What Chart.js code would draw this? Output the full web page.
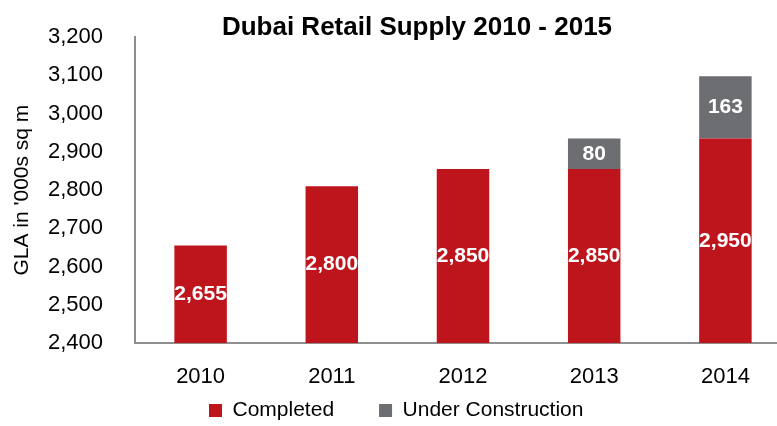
<!DOCTYPE html>
<html>
<head>
<meta charset="utf-8">
<script src="https://cdn.jsdelivr.net/npm/chart.js@4.4.0/dist/chart.umd.min.js"></script>
<style>
  html, body { margin: 0; padding: 0; background: #fff; overflow: hidden; }
</style>
</head>
<body>
<canvas id="supplyChart" width="791" height="426"></canvas>
<script>
// data
const years = ['2010', '2011', '2012', '2013', '2014'];
const completed = [2655, 2810, 2855, 2855, 2935];
const underConstruction = [null, null, null, 80, 163];
// printed values on the bars
const completedLabels = ['2,655', '2,800', '2,850', '2,850', '2,950'];
const constructionLabels = ['', '', '', '80', '163'];
// y axis
const yMin = 2400;
const yMax = 3200;
const yStep = 100;

const FONT = "'Liberation Sans', Arial, sans-serif";
Chart.defaults.font.family = FONT;
Chart.defaults.color = '#000';

// white numbers inside each bar segment
const barLabels = {
  id: 'barLabels',
  afterDatasetsDraw(chart) {
    const ctx = chart.ctx;
    const texts = [completedLabels, constructionLabels];
    const bottom = chart.chartArea.bottom;
    ctx.save();
    ctx.fillStyle = '#fff';
    ctx.font = 'bold 21px ' + FONT;
    ctx.textAlign = 'center';
    ctx.textBaseline = 'middle';
    chart.data.datasets.forEach((ds, i) => {
      chart.getDatasetMeta(i).data.forEach((bar, j) => {
        const t = texts[i][j];
        if (!t) return;
        const base = Math.min(bar.base, bottom);
        ctx.fillText(t, bar.x, (bar.y + base) / 2);
      });
    });
    ctx.restore();
  }
};

// the legend in the original sits just under the year labels, left of centre
const legendPlace = {
  id: 'legendPlace',
  afterLayout(chart) {
    const pad = chart.options.plugins.legend.labels.padding;
    chart.legend.left = 209 - pad;
    chart.legend.top = 400 - pad;
  }
};

new Chart(document.getElementById('supplyChart').getContext('2d'), {
  type: 'bar',
  data: {
    labels: years,
    datasets: [
      { label: 'Completed', data: completed, backgroundColor: '#BE151C' },
      { label: 'Under Construction', data: underConstruction, backgroundColor: '#6D6E71' }
    ]
  },
  options: {
    responsive: false,
    animation: false,
    layout: { padding: { left: 43, right: 0, top: -11, bottom: -43 } },
    datasets: { bar: { barPercentage: 0.4, categoryPercentage: 1, borderWidth: 0 } },
    plugins: {
      title: {
        display: true,
        text: 'Dubai Retail Supply 2010 - 2015',
        font: { size: 26, weight: 'bold' },
        color: '#000',
        padding: { top: 9, bottom: -6 }
      },
      legend: {
        position: 'bottom',
        align: 'start',
        labels: { boxWidth: 13, boxHeight: 13, padding: 45, font: { size: 21 }, color: '#000' }
      },
      tooltip: { enabled: false }
    },
    scales: {
      x: {
        stacked: true,
        grid: { display: false },
        border: { color: '#8f8f8f', width: 2 },
        ticks: { font: { size: 22 }, padding: 13 },
        afterFit(scale) { scale.height = 50; }
      },
      y: {
        stacked: true,
        min: yMin,
        max: yMax,
        grid: { display: false },
        border: { color: '#8f8f8f', width: 2 },
        ticks: {
          stepSize: yStep,
          font: { size: 22 },
          padding: 24,
          callback: v => v.toLocaleString('en-US')
        },
        title: {
          display: true,
          text: "GLA in '000s sq m",
          font: { size: 21 },
          padding: { top: -33, bottom: 0 }
        },
        afterFit(scale) { scale.width = 92; }
      }
    }
  },
  plugins: [barLabels, legendPlace]
});
</script>
</body>
</html>
